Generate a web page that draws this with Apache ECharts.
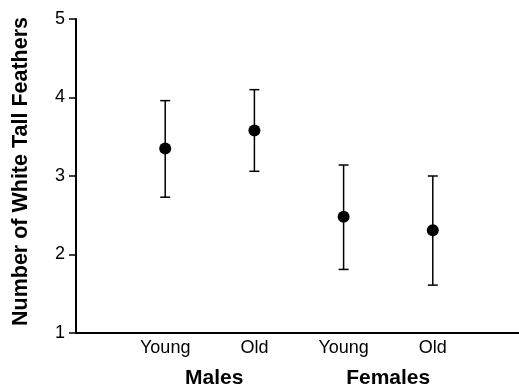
<!DOCTYPE html>
<html>
<head>
<meta charset="utf-8">
<script src="https://cdn.jsdelivr.net/npm/echarts@6/dist/echarts.min.js"></script>
<style>html,body{margin:0;padding:0;background:#fff;}#c{width:519px;height:386px;}</style>
</head>
<body>
<div id="c"></div>
<script>
var groups = ['Males', 'Females'];
var groupPos = [1.55, 3.5];
var ages = ['Young', 'Old', 'Young', 'Old'];
var means = [3.35, 3.58, 2.48, 2.31];
var upper = [3.96, 4.10, 3.14, 3.00];
var lower = [2.73, 3.06, 1.81, 1.61];
var yTicks = [1, 2, 3, 4, 5];
var yTitle = 'Number of White Tall Feathers';

var font = '"Liberation Sans", Arial, Helvetica, sans-serif';
var pts = means.map(function (m, i) { return [i + 1, m]; });
var bars = means.map(function (m, i) { return [i + 1, lower[i], upper[i]]; });

var chart = echarts.init(document.getElementById('c'), null, {renderer: 'canvas'});
chart.setOption({
  animation: false,
  backgroundColor: '#fff',
  grid: {left: 76, width: 446, top: 19, bottom: 53, containLabel: false, outerBoundsMode: 'none'},
  xAxis: [{
    type: 'value', min: 0, max: 5, interval: 1,
    axisLine: {show: true, onZero: false, lineStyle: {color: '#000', width: 2}},
    axisTick: {show: false},
    splitLine: {show: false},
    axisLabel: {
      margin: 6, color: '#000', fontSize: 18, fontFamily: font,
      formatter: function (v) { return (v >= 1 && v <= ages.length) ? ages[v - 1] : ''; }
    }
  }, {
    type: 'value', min: 0, max: 5, interval: 0.05, position: 'bottom',
    axisLine: {show: false}, axisTick: {show: false}, splitLine: {show: false},
    axisLabel: {
      interval: 0, hideOverlap: false,
      margin: 35, color: '#000', fontSize: 21, fontWeight: 'bold', fontFamily: font,
      formatter: function (v) {
        for (var i = 0; i < groupPos.length; i++) {
          if (Math.abs(v - groupPos[i]) < 1e-6) return groups[i];
        }
        return '';
      }
    }
  }],
  yAxis: {
    type: 'value', min: yTicks[0], max: yTicks[yTicks.length - 1], interval: 1,
    name: yTitle, nameLocation: 'middle', nameGap: 44, nameRotate: 90,
    nameTextStyle: {color: '#000', fontSize: 21.5, fontWeight: 'bold', fontFamily: font, padding: [0, 0, 0, 9]},
    axisLine: {show: true, lineStyle: {color: '#000', width: 2}},
    axisTick: {show: true, length: 7, lineStyle: {color: '#000', width: 1.5}},
    splitLine: {show: false},
    axisLabel: {margin: 11, color: '#000', fontSize: 18, fontFamily: font}
  },
  series: [{
    type: 'custom',
    xAxisIndex: 0,
    data: bars,
    renderItem: function (params, api) {
      var x = api.value(0);
      var lo = api.coord([x, api.value(1)]);
      var hi = api.coord([x, api.value(2)]);
      var w = 5;
      var st = {stroke: '#000', lineWidth: 1.5};
      return {type: 'group', children: [
        {type: 'line', shape: {x1: lo[0], y1: lo[1], x2: hi[0], y2: hi[1]}, style: st},
        {type: 'line', shape: {x1: hi[0] - w, y1: hi[1], x2: hi[0] + w, y2: hi[1]}, style: st},
        {type: 'line', shape: {x1: lo[0] - w, y1: lo[1], x2: lo[0] + w, y2: lo[1]}, style: st}
      ]};
    },
    z: 2
  }, {
    type: 'scatter',
    xAxisIndex: 0,
    data: pts,
    symbol: 'circle',
    symbolSize: 12,
    itemStyle: {color: '#000', opacity: 1},
    z: 3
  }]
});
</script>
</body>
</html>
